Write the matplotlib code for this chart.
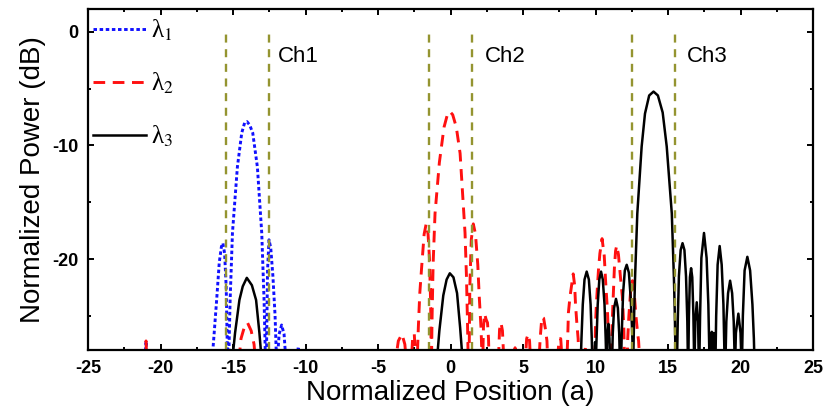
import numpy as np
import matplotlib
matplotlib.use('Agg')
import matplotlib.pyplot as plt
from matplotlib.ticker import MultipleLocator

# field intensity profiles (dB) across the output, one per wavelength
lam1_x = [-25, -21.08, -21.0, -20.92,
          -16.45, -16.3, -16.13, -15.95, -15.8, -15.7, -15.58, -15.47, -15.38,
          -15.3, -15.2, -15.04, -14.7, -14.4, -14.2, -14.04, -13.85, -13.64, -13.32, -13.02, -12.86, -12.76,
          -12.7, -12.62, -12.52, -12.4, -12.25, -12.1, -12.0,
          -11.95, -11.82, -11.65, -11.48, -11.35,
          -10.6, -10.5, -10.4, 25]
lam1_y = [-29, -29, -27.2, -29,
          -29, -26.5, -23.6, -20.3, -18.9, -18.6, -19.5, -22.5, -29,
          -29, -23.6, -17.7, -11.9, -8.9, -8.0, -7.9, -8.2, -8.9, -11.9, -17.7, -23.6, -29,
          -29, -21, -18.3, -19.0, -21.5, -25, -29,
          -29, -26.6, -25.8, -26.6, -29,
          -29, -27.7, -29, -29]

lam2_x = [-25, -21.05, -21.0, -20.95,
          -14.6, -14.45, -14.2, -14.0, -13.75, -13.55, -13.45,
          -3.8, -3.6, -3.35, -3.15, -3.05,
          -2.7, -2.6, -2.5, -2.4,
          -2.3, -2.22, -2.12, -1.98, -1.82, -1.68, -1.55, -1.45, -1.37, -1.33,
          -1.31, -1.28, -1.2, -1.07, -0.77, -0.45, -0.2, -0.05, 0.15, 0.4, 0.66, 0.88, 1.0, 1.1, 1.17, 1.22,
          1.28, 1.33, 1.43, 1.57, 1.72, 1.88, 1.98, 2.1, 2.18,
          2.22, 2.27, 2.35, 2.45, 2.55, 2.62, 2.66,
          3.3, 3.38, 3.48, 3.58, 3.68,
          4.38, 4.45, 4.52,
          5.15, 5.25, 5.35, 5.45, 5.52,
          6.1, 6.18, 6.3, 6.42, 6.55, 6.65, 6.7,
          7.38, 7.48, 7.6, 7.7,
          8.02, 8.08, 8.13, 8.24, 8.36, 8.46, 8.56, 8.62, 8.72, 8.8, 8.86,
          9.25, 9.3, 9.35,
          9.95, 10.0, 10.08, 10.2, 10.3, 10.45, 10.6, 10.72, 10.82, 10.88, 10.92,
          11.08, 11.15, 11.23, 11.3, 11.38, 11.46, 11.58, 11.72, 11.85, 11.95, 12.0,
          12.18, 12.22, 12.3, 12.42, 12.55, 12.68, 12.78, 12.9, 12.97, 13.05,
          25]
lam2_y = [-29, -29, -27.2, -29,
          -29, -27, -25.9, -25.6, -26.3, -27.5, -29,
          -29, -27.2, -26.6, -27.5, -29,
          -29, -26.6, -26.6, -29,
          -29, -26, -23, -20.5, -17.8, -16.9, -17.8, -20, -24, -29,
          -29, -25.6, -20.4, -16, -11.5, -8.4, -7.2, -7.0, -7.3, -8.4, -10.7, -15.2, -17.7, -21.6, -25.6, -29,
          -29, -22.5, -18.3, -16.9, -17.8, -20.5, -23.3, -26, -29,
          -29, -26, -24.8, -25.3, -25.6, -27, -29,
          -29, -26.2, -25.6, -26.3, -29,
          -29, -27.8, -29,
          -29, -27, -26.6, -27.2, -29,
          -29, -27, -25.1, -25.2, -26.2, -27.2, -29,
          -29, -27, -27.0, -29,
          -29, -27, -24.7, -23.3, -22.2, -21.3, -22.3, -24, -25.8, -27, -29,
          -29, -27.8, -29,
          -29, -25.6, -23.5, -21, -19.5, -18.2, -19.7, -22.5, -24.5, -26.5, -29,
          -29, -25.5, -22.9, -20.8, -19.3, -18.8, -19.6, -21.6, -23.3, -26, -29,
          -29, -27, -25, -22.8, -21.9, -23.2, -24.9, -26.5, -27.2, -29,
          -29]

lam3_x = [-25,
          -15.05, -14.98, -14.86, -14.56, -14.33, -14.05, -13.7, -13.41, -13.18, -13.08, -13.02,
          -0.93, -0.88, -0.77, -0.5, -0.27, -0.05, 0.2, 0.45, 0.66, 0.78, 0.83,
          8.98, 9.03, 9.12, 9.24, 9.39, 9.54, 9.66, 9.74, 9.78,
          9.92, 9.97, 10.0,
          10.02, 10.07, 10.15, 10.26, 10.38, 10.5, 10.62, 10.7, 10.74,
          10.76, 10.8, 10.89, 10.96, 11.0,
          11.14, 11.19, 11.28, 11.41, 11.54, 11.63, 11.68,
          11.76, 11.81, 11.9, 12.02, 12.15, 12.3, 12.43, 12.53, 12.58,
          12.6, 12.66, 12.72, 12.88, 13.18, 13.41, 13.7, 14.0, 14.3, 14.63, 14.91, 15.26, 15.41, 15.47, 15.52,
          15.62, 15.67, 15.75, 15.87, 16.0, 16.13, 16.24, 16.33, 16.37,
          16.4, 16.44, 16.51, 16.59, 16.67, 16.75, 16.8,
          16.83, 16.88, 16.98, 17.07, 17.12,
          17.16, 17.21, 17.3, 17.48, 17.66, 17.78, 17.86,
          17.9, 17.95, 18.02, 18.08, 18.1, 18.15, 18.2, 18.24,
          18.27, 18.32, 18.42, 18.56, 18.7, 18.82, 18.9,
          18.96, 19.02, 19.14, 19.28, 19.42, 19.53, 19.6,
          19.63, 19.68, 19.85, 20.0, 20.06,
          20.1, 20.16, 20.28, 20.47, 20.66, 20.82, 20.92, 20.96,
          25]
lam3_y = [-29,
          -29, -28, -26.5, -23.6, -22.4, -21.65, -22.3, -23.6, -26.5, -28, -29,
          -29, -28, -26.3, -23.2, -21.8, -21.25, -21.6, -23, -26, -28, -29,
          -29, -27, -24, -21.8, -21.1, -21.8, -24, -27, -29,
          -29, -27.3, -29,
          -29, -27, -24, -21.8, -21.1, -21.8, -24, -27, -29,
          -29, -27, -25.7, -27, -29,
          -29, -26.5, -24.3, -23.5, -24.3, -26.5, -29,
          -29, -26.5, -23, -21, -20.5, -21.2, -23.5, -26.5, -29,
          -29, -25, -21.85, -16.0, -10.1, -7.2, -5.6, -5.26, -5.6, -7.1, -10.1, -16.0, -21.85, -25, -29,
          -29, -25.5, -21.5, -19.2, -18.6, -19.2, -21.5, -25.5, -29,
          -29, -25, -21.6, -20.8, -21.6, -25, -29,
          -29, -25.5, -23.8, -25.5, -29,
          -29, -25, -19.9, -17.7, -19.9, -24, -29,
          -29, -26.6, -26.4, -29, -29, -26.5, -26.6, -29,
          -29, -25, -20.5, -18.85, -20.5, -24, -29,
          -29, -25.5, -23, -21.9, -23, -25.5, -29,
          -29, -26.5, -24.8, -26.5, -29,
          -29, -25, -21, -19.8, -21, -24, -27, -29,
          -29]

# output channel boundaries and labels
ch_edges = [-15.5, -12.5, -1.5, 1.5, 12.5, 15.5]
ch_names = ['Ch1', 'Ch2', 'Ch3']
ch_label_x = [-11.9, 2.4, 16.3]

plt.rcParams['font.family'] = ['Liberation Sans', 'DejaVu Sans']
plt.rcParams['mathtext.fontset'] = 'stix'
plt.rcParams['axes.unicode_minus'] = False

fig = plt.figure(figsize=(8.25, 4.13), dpi=100)
ax = fig.add_axes([0.1067, 0.1525, 0.8788, 0.8255])

ax.plot(lam1_x, lam1_y, color='#1010ff', lw=2.1, dashes=(1.2, 0.9), label='λ$_1$')
ax.plot(lam2_x, lam2_y, color='#ff1010', lw=2.1, dashes=(4.0, 2.6), label='λ$_2$')
ax.plot(lam3_x, lam3_y, color='black', lw=1.8, label='λ$_3$')

ax.vlines(ch_edges, -28, 0, colors='#949430', lw=1.7, linestyles=(0, (3.4, 2.8)))
for name, xpos in zip(ch_names, ch_label_x):
    ax.text(xpos, -2.2, name, fontsize=16, va='center', ha='left')

ax.set_xlim(-25, 25)
ax.set_ylim(-28, 2)
ax.xaxis.set_major_locator(MultipleLocator(5))
ax.xaxis.set_minor_locator(MultipleLocator(2.5))
ax.yaxis.set_major_locator(MultipleLocator(10))
ax.yaxis.set_minor_locator(MultipleLocator(5))
ax.tick_params(which='both', direction='in', top=True, right=True, width=1.4)
ax.tick_params(which='major', length=4.5, labelsize=13, pad=7)
ax.tick_params(which='minor', length=2.5)
for lab in ax.get_xticklabels() + ax.get_yticklabels():
    lab.set_fontweight('bold')
for sp in ax.spines.values():
    sp.set_linewidth(1.6)

ax.set_xlabel('Normalized Position (a)', fontsize=20, labelpad=2)
ax.set_ylabel('Normalized Power (dB)', fontsize=20, labelpad=4)

ax.legend(loc='upper left', frameon=False, prop={'family': ['Liberation Serif', 'DejaVu Serif'], 'size': 18},
          handlelength=2.1, labelspacing=1.12, handletextpad=0.2, borderpad=0.1,
          borderaxespad=0.1, bbox_to_anchor=(0.0, 0.99))

fig.savefig('out.png', dpi=100)
